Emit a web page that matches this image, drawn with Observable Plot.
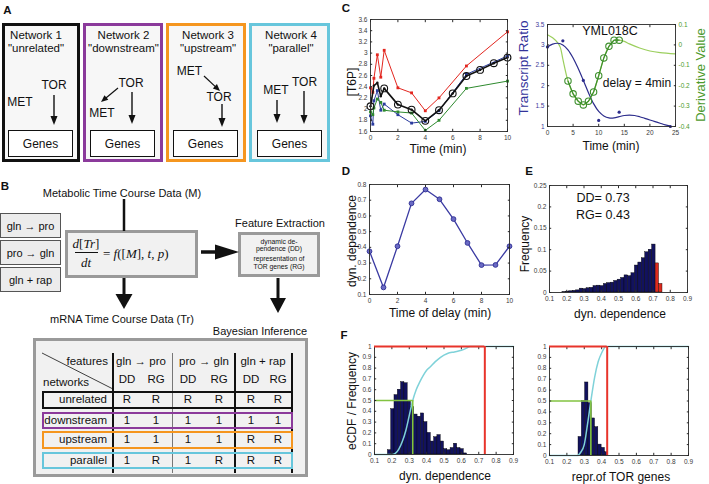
<!DOCTYPE html>
<html><head><meta charset="utf-8">
<script src="https://cdn.jsdelivr.net/npm/d3@7"></script>
<script src="https://cdn.jsdelivr.net/npm/@observablehq/plot@0.6"></script>
<style>
body{margin:0;background:#fff;}
#fig{position:relative;width:709px;height:484px;font-family:"Liberation Sans",Arial,sans-serif;color:#111;overflow:hidden;background:#fff;}
#fig div.t{position:absolute;white-space:nowrap;line-height:1;}
#fig div.box{position:absolute;box-sizing:border-box;}
</style></head><body><div id="fig"></div>
<script>
// ---------------- DATA ----------------
// Panel C (left): [T6P] time courses
const cTimeRed = [0,0.17,0.25,0.5,0.75,1,2,3,4,5,7,10];
const cRed = [2.38,2.3,2.55,2.97,2.57,3.05,2.38,2.29,1.97,2.2,2.77,3.38];
const cTimeBlue = [0,0.17,0.25,0.5,0.75,1,2,3,4,5,7,10];
const cBlue = [1.88,1.73,2.15,2.33,1.98,2.09,1.9,1.75,1.78,1.97,2.62,2.95];
const cTimeGreen = [0,0.17,0.25,0.5,0.75,1,2,3,4,5,7,10];
const cGreen = [1.95,1.9,2.02,2.18,2.12,1.98,1.95,1.93,1.62,1.8,2.37,2.5];
const cTimeBlack = [0,0.25,0.5,0.75,1,2,3,4,5,6,7,8,9,10];
const cBlack = [2.05,2.42,2.47,2.23,2.37,2.08,1.99,1.79,1.98,2.28,2.59,2.7,2.82,2.92];
const cXTicks = [0,2,4,6,8,10];
const cYTicks = [1.6,1.8,2,2.2,2.4,2.6,2.8,3,3.2,3.4,3.6];

// Panel C (right): YML018C transcript ratio and derivative
const trTime = [0,3,7,10,14,24];
const trValue = [2.95,3.1,2.13,1.15,1.35,1.0];
const fitTime = [0,1,2,3,4,5,6,7,8,9,10,11,12,13,14,15,16,17,18,19,20,21,22,23,24];
const fitValue = [2.95,3.02,3.04,3.0,2.88,2.68,2.42,2.13,1.83,1.56,1.37,1.26,1.21,1.21,1.24,1.27,1.28,1.27,1.24,1.2,1.16,1.12,1.08,1.04,1.01];
const derTime = [0,1,2,2.5,3,4,5,6,7,8,9,10,11,12,13,14,15,16,18,20,22,25];
const derValue = [0.05,0.035,0.01,-0.012,-0.07,-0.177,-0.24,-0.276,-0.294,-0.276,-0.231,-0.151,-0.064,-0.007,0.023,0.023,0.017,0.005,-0.015,-0.03,-0.038,-0.044];
const derCircTime = [4,5,6,7,8,9,10,11,12,13,14];
const derCircValue = [-0.177,-0.24,-0.276,-0.294,-0.276,-0.231,-0.151,-0.064,-0.007,0.023,0.023];
const crXTicks = [0,5,10,15,20,25];
const crYTicks = [1,1.5,2,2.5,3,3.5];
const derTicks = [-0.4,-0.3,-0.2,-0.1,0,0.1];

// Panel D: dynamic dependence vs delay
const delayTime = [0,1,2,3,4,5,6,7,8,9,10];
const dynDep = [0.375,0.145,0.407,0.68,0.768,0.706,0.58,0.428,0.287,0.288,0.407];
const dXTicks = [0,2,4,6,8,10];
const dYTicks = [0.1,0.2,0.3,0.4,0.5,0.6,0.7,0.8];

// Panel E: histogram of dyn. dependence
const eBinLeft = [0.175,0.195,0.215,0.235,0.255,0.275,0.295,0.315,0.335,0.355,0.375,0.395,0.415,0.435,0.455,0.475,0.495,0.515,0.535,0.555,0.575,0.595,0.615,0.635,0.655,0.675,0.695];
const eFreq = [0.001,0.002,0.003,0.004,0.005,0.009,0.008,0.01,0.011,0.015,0.016,0.015,0.02,0.022,0.023,0.027,0.03,0.034,0.04,0.038,0.045,0.063,0.07,0.08,0.094,0.1,0.112];
const eRedLeft = [0.715,0.735];
const eRedFreq = [0.068,0.02];
const eBinWidth = 0.02;
const unitTicks = [0.1,0.2,0.3,0.4,0.5,0.6,0.7,0.8,0.9];
const eYTicks = [0,0.05,0.1,0.15,0.2,0.25];

// Panel F: histograms + eCDF
const fDDLeft = [0.177,0.196,0.215,0.234,0.253,0.272,0.291,0.31,0.329,0.348,0.367,0.386,0.405,0.424,0.443,0.462,0.481,0.5,0.519,0.538,0.557,0.576,0.595,0.614];
const fDDFreq = [0.04,0.42,0.55,0.6,0.67,0.66,0.49,0.44,0.37,0.35,0.38,0.3,0.2,0.12,0.16,0.18,0.12,0.05,0.04,0.06,0.1,0.06,0.05,0.01];
const fRGLeft = [0.267,0.286,0.305,0.324,0.343,0.362,0.381,0.4,0.419];
const fRGFreq = [0.17,0.5,0.67,0.48,0.34,0.26,0.1,0.07,0.03];
const fBinWidth = 0.019;
const ecdfDDx = [0.1,0.2,0.22,0.24,0.26,0.28,0.3,0.32,0.34,0.36,0.38,0.4,0.42,0.45,0.48,0.52,0.56,0.6,0.63,0.65,0.9];
const ecdfDDy = [0,0,0.01,0.05,0.12,0.22,0.36,0.5,0.6,0.67,0.73,0.78,0.81,0.86,0.9,0.935,0.95,0.965,0.985,1,1];
const ecdfRGx = [0.1,0.26,0.28,0.3,0.32,0.338,0.36,0.38,0.4,0.425,0.9];
const ecdfRGy = [0,0,0.03,0.1,0.3,0.5,0.72,0.86,0.94,1,1];
const fMedian = [0.32,0.338];      // DD, RG
const fObserved = [0.735,0.432];   // DD, RG
const fYTicks = [0,0.1,0.2,0.3,0.4,0.5,0.6,0.7,0.8,0.9,1];

// ---------------- HELPERS ----------------
const fig = document.getElementById("fig");
const pts = (xs, ys) => xs.map((x, i) => ({x, y: ys[i]}));
function txt(x, y, s, o = {}) {
  const d = document.createElement("div");
  d.className = "t";
  if (o.html) d.innerHTML = s; else d.textContent = s;
  const ax = o.anchor === "start" ? 0 : o.anchor === "end" ? -100 : -50;
  d.style.left = x + "px"; d.style.top = y + "px";
  d.style.fontSize = (o.size || 12) + "px";
  if (o.color) d.style.color = o.color;
  if (o.weight) d.style.fontWeight = o.weight;
  if (o.family) d.style.fontFamily = o.family;
  d.style.transform = `translate(${ax}%,-50%)` + (o.rotate ? ` rotate(${o.rotate}deg)` : "");
  fig.appendChild(d);
  return d;
}
function box(x, y, w, h, border, bg) {
  const d = document.createElement("div");
  d.className = "box";
  d.style.cssText += `left:${x}px;top:${y}px;width:${w}px;height:${h}px;border:${border};background:${bg || "transparent"};`;
  fig.appendChild(d);
  return d;
}
function place(el, left, top) {
  el.style.position = "absolute"; el.style.left = left + "px"; el.style.top = top + "px";
  fig.appendChild(el);
}
const plotStyle = {fontFamily: "'Liberation Sans', Arial, sans-serif", fontSize: "6.5px", color: "#3a3a3a", background: "transparent", overflow: "visible"};
const fmt = d => String(d);
function matlabAxes(xTicks, yTicks, yFill = "#3a3a3a", withRight = true) {
  const marks = [
    Plot.frame({stroke: "#2a2a2a", strokeWidth: 0.9}),
    Plot.axisX({ticks: xTicks, tickSize: 0, tickPadding: 3.5, tickFormat: fmt, label: null, fill: "#3a3a3a"}),
    Plot.axisY({ticks: yTicks, tickSize: 0, tickPadding: 3, tickFormat: fmt, label: null, fill: yFill}),
    Plot.axisX({ticks: xTicks, tickSize: -2.2, fill: "none", label: null, stroke: "#2a2a2a"}),
    Plot.axisX({anchor: "top", ticks: xTicks, tickSize: -2.2, fill: "none", label: null, stroke: "#2a2a2a"}),
    Plot.axisY({ticks: yTicks, tickSize: -2.2, fill: "none", label: null, stroke: "#2a2a2a"})
  ];
  if (withRight) marks.push(Plot.axisY({anchor: "right", ticks: yTicks, tickSize: -2.2, fill: "none", label: null, stroke: "#2a2a2a"}));
  return marks;
}

// ---------------- PANEL A (diagram) ----------------
const netColors = ["#111111", "#8b3a9b", "#f5961f", "#67c6dc"];
const netBoxX = [2, 83, 166, 249];
const netBoxW = [78, 80, 80, 81];
netBoxX.forEach((x, i) => box(x, 23, netBoxW[i], 139, `3px solid ${netColors[i]}`, "#f7f7f7"));
const netTitles = [["Network 1", "\"unrelated\""], ["Network 2", "\"downstream\""], ["Network 3", "\"upstream\""], ["Network 4", "\"parallel\""]];
const netTitleX = [36, 123.5, 208, 291];
netTitles.forEach((t, i) => { txt(netTitleX[i], 35.5, t[0], {size: 11.5}); txt(netTitleX[i], 48.5, t[1], {size: 11.5}); });
const genesX = [8, 90, 173, 257];
genesX.forEach(x => { box(x, 130, 65, 27, "1.5px solid #111", "#fff"); txt(x + 32.5, 143.5, "Genes"); });
txt(54, 85, "TOR"); txt(20, 102, "MET");
txt(131, 83, "TOR"); txt(102, 113, "MET");
txt(189.5, 71, "MET"); txt(219, 97, "TOR");
txt(276, 90, "MET"); txt(304.5, 82, "TOR");

// ---------------- PANEL B (diagram) ----------------
txt(122, 193, "Metabolic Time Course Data (M)", {size: 11});
const condLabels = ["gln \u2192 pro", "pro \u2192 gln", "gln + rap"];
const condY = [213, 240, 267];
condLabels.forEach((s, i) => { box(0, condY[i], 61, 25, "1.2px solid #555", "#ececec"); txt(30.5, condY[i] + 12.5, s, {size: 11}); });
box(65, 230, 133, 48, "3px solid #9a9a9a", "#f1f1f1");
const serif = "'Liberation Serif', 'DejaVu Serif', serif";
txt(86, 243, "<i>d</i>[<i>Tr</i>]", {html: true, size: 13, family: serif});
box(75, 252, 23, 1, "none", "#111");
txt(86, 262, "<i>dt</i>", {html: true, size: 13, family: serif});
txt(103, 253, "= <i>f</i>([<i>M</i>], <i>t</i>, <i>p</i>)", {html: true, size: 13, family: serif, anchor: "start"});
txt(280, 223, "Feature Extraction", {size: 11});
box(238, 232, 82, 45, "3px solid #9a9a9a", "#f1f1f1");
txt(279, 242, "dynamic de-", {size: 6.8}); txt(279, 249, "pendence (DD)", {size: 6.8});
txt(279, 259, "representation of", {size: 6.8}); txt(279, 267, "TOR genes (RG)", {size: 6.8});
txt(122, 319, "mRNA Time Course Data (Tr)", {size: 11});
txt(307, 331, "Bayesian Inference", {size: 11, anchor: "end"});
box(33, 338, 275, 139, "3px solid #9a9a9a", "#f1f1f1");
// table
const groupHeads = ["gln \u2192 pro", "pro \u2192 gln", "gln + rap"];
const groupX = [141, 204, 263];
groupHeads.forEach((s, i) => txt(groupX[i], 362, s, {size: 11.5}));
txt(108, 362, "features", {size: 11.5, anchor: "end"});
txt(43, 383, "networks", {size: 11.5, anchor: "start"});
const featCols = ["DD", "RG", "DD", "RG", "DD", "RG"];
const colX = [127, 156, 188, 219, 251, 278];
featCols.forEach((s, i) => txt(colX[i], 380, s, {size: 11.5}));
const sepX = [113, 173, 235, 292];
sepX.forEach((x, i) => box(x - 0.75, 353, i === 1 ? 1 : 1.5, 120, "none", i === 1 ? "#777" : "#111"));
const rowNames = ["unrelated", "downstream", "upstream", "parallel"];
const rowValues = [["R","R","R","R","R","R"], ["1","1","1","1","1","1"], ["1","1","1","1","R","R"], ["1","R","1","R","R","R"]];
const rowTop = [391, 411.5, 431, 451.5];
rowNames.forEach((n, r) => {
  box(42, rowTop[r], 251, 17.5, `2px solid ${netColors[r]}`, "transparent");
  txt(107, rowTop[r] + 9, n, {size: 11.5, anchor: "end"});
  rowValues[r].forEach((v, c) => txt(colX[c], rowTop[r] + 9, v, {size: 11.5}));
});

// SVG overlay for diagram arrows/lines
function arrowSVG(x1, y1, x2, y2, lw, hl, hw) {
  const dx = x2 - x1, dy = y2 - y1, L = Math.hypot(dx, dy), ux = dx / L, uy = dy / L;
  const bx = x2 - ux * hl, by = y2 - uy * hl, px = -uy, py = ux;
  return `<line x1="${x1}" y1="${y1}" x2="${bx + ux}" y2="${by + uy}" stroke="#111" stroke-width="${lw}"/>` +
    `<polygon fill="#111" points="${x2},${y2} ${bx + px * hw / 2},${by + py * hw / 2} ${bx - px * hw / 2},${by - py * hw / 2}"/>`;
}
const ov = document.createElementNS("http://www.w3.org/2000/svg", "svg");
ov.setAttribute("width", 709); ov.setAttribute("height", 484);
ov.style.cssText = "position:absolute;left:0;top:0;pointer-events:none;";
ov.innerHTML =
  arrowSVG(54, 95, 54, 125, 1.4, 9, 7) +
  arrowSVG(118, 88, 101, 102, 1.2, 7, 6) + arrowSVG(132, 92, 132, 124, 1.4, 9, 7) +
  arrowSVG(204, 76, 220, 91, 1.2, 7, 6) + arrowSVG(222, 104, 222, 127, 1.4, 9, 7) +
  arrowSVG(277, 100, 277, 123, 1.4, 9, 7) + arrowSVG(304, 91, 304, 124, 1.4, 9, 7) +
  `<line x1="124" y1="199" x2="124" y2="231" stroke="#111" stroke-width="2.5"/>` +
  arrowSVG(124, 278, 124, 309, 3, 15, 17) +
  arrowSVG(201, 252, 239, 252, 3.5, 24, 15) +
  arrowSVG(278, 278, 278, 313, 3, 15, 16) +
  `<line x1="42" y1="353" x2="113" y2="389" stroke="#111" stroke-width="0.8"/>`;
fig.appendChild(ov);

// ---------------- PANEL C (left) ----------------
const cSeries = [
  {data: pts(cTimeRed, cRed), color: "#e3261f"},
  {data: pts(cTimeBlue, cBlue), color: "#2b3c9e"},
  {data: pts(cTimeGreen, cGreen), color: "#2e8a2e"}
];
const cBlackData = pts(cTimeBlack, cBlack);
const plotCL = Plot.plot({
  width: 170, height: 160, marginLeft: 20, marginRight: 13, marginTop: 14, marginBottom: 34,
  style: plotStyle,
  x: {domain: [0, 10]}, y: {domain: [1.6, 3.6]},
  marks: [
    ...cSeries.flatMap(s => [
      Plot.line(s.data, {x: "x", y: "y", stroke: s.color, strokeWidth: 1}),
      Plot.dot(s.data, {x: "x", y: "y", fill: s.color, r: 1.6, symbol: "square"})
    ]),
    Plot.line(cBlackData, {x: "x", y: "y", stroke: "#111", strokeWidth: 1.6}),
    Plot.dot(cBlackData.filter(d => Number.isInteger(d.x)), {x: "x", y: "y", stroke: "#111", fill: "none", r: 3.4, strokeWidth: 1.1}),
    Plot.dot(cBlackData, {x: "x", y: "y", fill: "#111", r: 1.2}),
    ...matlabAxes(cXTicks, cYTicks)
  ]
});
place(plotCL, 350, 5);
txt(352, 82, "[T6P]", {rotate: -90});
txt(438, 149, "Time (min)");

// ---------------- PANEL C (right) ----------------
const toLeft = d => 1 + (d + 0.4) * 5;
const trColor = "#2c2c8c", derColor = "#3d8f2d";
const plotCR = Plot.plot({
  width: 178, height: 145, marginLeft: 17, marginRight: 33, marginTop: 14, marginBottom: 29,
  style: plotStyle,
  x: {domain: [0, 25]}, y: {domain: [1, 3.5]},
  marks: [
    Plot.line(pts(derTime, derValue), {x: "x", y: d => toLeft(d.y), stroke: "#9ccf5e", strokeWidth: 1.2, curve: "catmull-rom"}),
    Plot.line(pts(fitTime, fitValue), {x: "x", y: "y", stroke: trColor, strokeWidth: 1.2, curve: "catmull-rom"}),
    Plot.line(pts(derCircTime, derCircValue), {x: "x", y: d => toLeft(d.y), stroke: derColor, strokeWidth: 1.2}),
    Plot.dot(pts(derCircTime, derCircValue), {x: "x", y: d => toLeft(d.y), stroke: derColor, fill: "none", r: 3.2, strokeWidth: 1.1}),
    Plot.dot(pts(trTime, trValue), {x: "x", y: "y", fill: trColor, r: 1.6}),
    ...matlabAxes(crXTicks, crYTicks, "#3a3a9a", false),
    Plot.axisY({anchor: "right", ticks: derTicks.map(toLeft), tickSize: 0, tickPadding: 3, label: null, fill: "#4d9a2d",
      tickFormat: v => String(Math.round(((v - 1) / 5 - 0.4) * 10) / 10)}),
    Plot.axisY({anchor: "right", ticks: derTicks.map(toLeft), tickSize: -2.2, fill: "none", label: null, stroke: "#2a2a2a"})
  ]
});
place(plotCR, 530, 10);
txt(524, 68, "Transcript Ratio", {rotate: -90, size: 13.5, color: "#33339a"});
txt(700, 75, "Derivative Value", {rotate: -90, size: 13, color: "#4d9a2d"});
txt(611, 146, "Time (min)");
txt(610, 31, "YML018C", {size: 12.5});
txt(637, 83, "delay = 4min", {size: 12});

// ---------------- PANEL D ----------------
const plotD = Plot.plot({
  width: 170, height: 140, marginLeft: 19, marginRight: 11, marginTop: 9, marginBottom: 21,
  style: plotStyle,
  x: {domain: [0, 10]}, y: {domain: [0.1, 0.8]},
  marks: [
    Plot.line(pts(delayTime, dynDep), {x: "x", y: "y", stroke: "#3a3aa2", strokeWidth: 1.3}),
    Plot.dot(pts(delayTime, dynDep), {x: "x", y: "y", fill: "#6a6ac4", stroke: "#2e2e92", r: 2.4, strokeWidth: 0.9}),
    ...matlabAxes(dXTicks, dYTicks)
  ]
});
place(plotD, 350, 175);
txt(352, 241, "dyn. dependence", {rotate: -90});
txt(440, 313, "Time of delay (min)");

// ---------------- PANEL E ----------------
const plotE = Plot.plot({
  width: 170, height: 140, marginLeft: 19, marginRight: 13, marginTop: 10, marginBottom: 23,
  style: plotStyle,
  x: {domain: [0.1, 0.9]}, y: {domain: [0, 0.25]},
  marks: [
    Plot.rectY(pts(eBinLeft, eFreq), {x1: "x", x2: d => d.x + eBinWidth, y: "y", fill: "#12125e", stroke: "#000", strokeWidth: 0.4}),
    Plot.rectY(pts(eRedLeft, eRedFreq), {x1: "x", x2: d => d.x + eBinWidth, y: "y", fill: "#dd2a1e", stroke: "#000", strokeWidth: 0.4}),
    ...matlabAxes(unitTicks, eYTicks)
  ]
});
place(plotE, 530, 175);
txt(525, 244, "Frequency", {rotate: -90});
txt(620, 314, "dyn. dependence");
txt(603, 198, "DD= 0.73", {size: 12.5});
txt(603, 215, "RG= 0.43", {size: 12.5});

// ---------------- PANEL F ----------------
function fPlot(binLeft, freq, cx, cy, k) {
  return Plot.plot({
    width: 170, height: 135, marginLeft: 19, marginRight: 12, marginTop: 11, marginBottom: k === 0 ? 16 : 15,
    style: plotStyle,
    x: {domain: [0.1, 0.9]}, y: {domain: [0, 1]},
    marks: [
      Plot.rectY(pts(binLeft, freq), {x1: "x", x2: d => d.x + fBinWidth, y: "y", fill: "#12125e", stroke: "#000", strokeWidth: 0.4}),
      Plot.line(pts(cx, cy), {x: "x", y: "y", stroke: "#7fd2d9", strokeWidth: 1.5, curve: "monotone-x"}),
      Plot.ruleY([0.5], {x1: 0.1, x2: fMedian[k], stroke: "#82c341", strokeWidth: 1.6}),
      Plot.ruleX([fMedian[k]], {y1: 0, y2: 0.5, stroke: "#82c341", strokeWidth: 1.6}),
      ...matlabAxes(unitTicks, fYTicks),
      Plot.ruleY([1], {x1: 0.1, x2: fObserved[k], stroke: "#e8342b", strokeWidth: 2}),
      Plot.ruleX([fObserved[k]], {y1: 0, y2: 1, stroke: "#e8342b", strokeWidth: 2})
    ]
  });
}
place(fPlot(fDDLeft, fDDFreq, ecdfDDx, ecdfDDy, 0), 355, 335);
place(fPlot(fRGLeft, fRGFreq, ecdfRGx, ecdfRGy, 1), 530, 335);
txt(352, 401, "eCDF / Frequency", {rotate: -90});
txt(445, 476, "dyn. dependence");
txt(621, 477, "repr.of TOR genes");

// ---------------- PANEL LABELS ----------------
const panelLetters = ["A", "B", "C", "D", "E", "F"];
const letterPos = [[7.5, 10.5], [5, 187], [346, 9], [346, 172], [529, 172], [344, 336]];
panelLetters.forEach((s, i) => txt(letterPos[i][0], letterPos[i][1], s, {size: 11.5, weight: "bold"}));
</script></body></html>
